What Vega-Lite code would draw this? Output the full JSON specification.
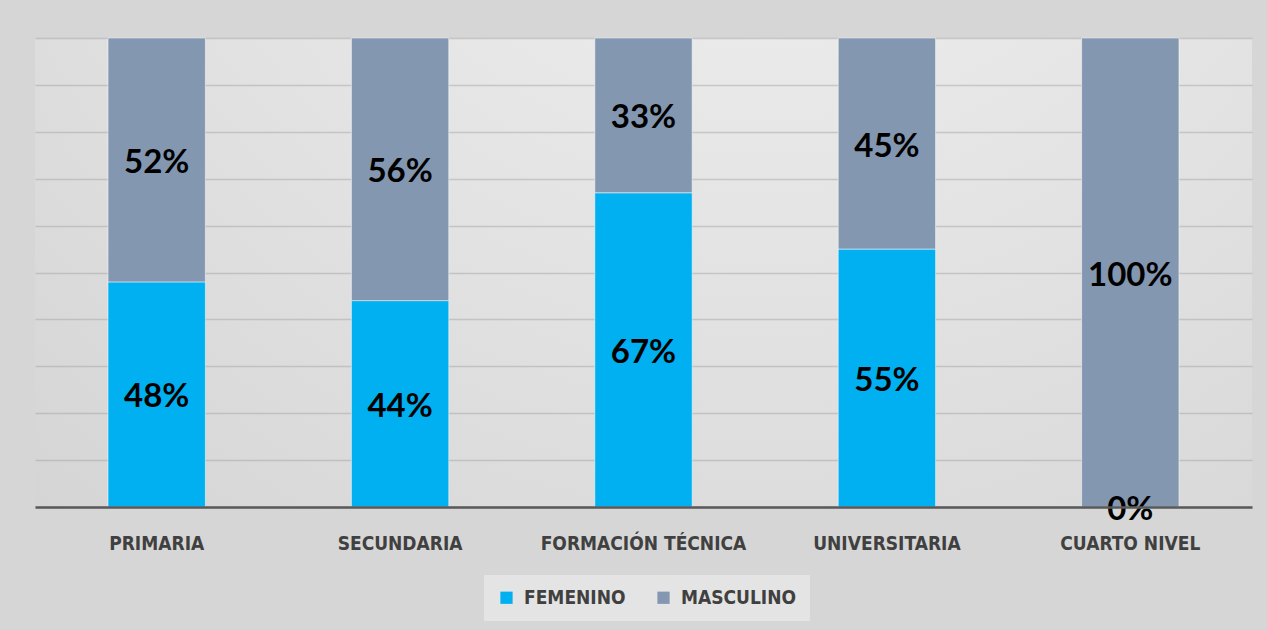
{
  "$schema": "https://vega.github.io/schema/vega-lite/v6.json",
  "width": 1217,
  "height": 469,
  "autosize": {"type": "none"},
  "padding": {"left": 35, "top": 38, "right": 15, "bottom": 123},
  "background": "#d6d6d6",
  "data": {
    "values": [
      {"nivel": "PRIMARIA", "sexo": "FEMENINO", "valor": 0.48},
      {"nivel": "PRIMARIA", "sexo": "MASCULINO", "valor": 0.52},
      {"nivel": "SECUNDARIA", "sexo": "FEMENINO", "valor": 0.44},
      {"nivel": "SECUNDARIA", "sexo": "MASCULINO", "valor": 0.56},
      {"nivel": "FORMACIÓN  TÉCNICA", "sexo": "FEMENINO", "valor": 0.67},
      {"nivel": "FORMACIÓN  TÉCNICA", "sexo": "MASCULINO", "valor": 0.33},
      {"nivel": "UNIVERSITARIA", "sexo": "FEMENINO", "valor": 0.55},
      {"nivel": "UNIVERSITARIA", "sexo": "MASCULINO", "valor": 0.45},
      {"nivel": "CUARTO  NIVEL", "sexo": "FEMENINO", "valor": 0.0},
      {"nivel": "CUARTO  NIVEL", "sexo": "MASCULINO", "valor": 1.0}
    ]
  },
  "encoding": {
    "x": {
      "field": "nivel",
      "type": "nominal",
      "sort": null,
      "scale": {"paddingInner": 0.6, "paddingOuter": 0.3},
      "axis": {
        "title": null,
        "labelAngle": 0,
        "ticks": false,
        "domainColor": "#595959",
        "domainWidth": 2.5,
        "labelFont": "DejaVu Sans Condensed",
        "labelFontWeight": "bold",
        "labelFontSize": 19,
        "labelColor": "#404040",
        "labelPadding": 27,
        "labelLimit": 0,
        "grid": false,
        "zindex": 1
      }
    },
    "y": {
      "field": "valor",
      "type": "quantitative",
      "stack": "normalize",
      "scale": {"domain": [0, 1]},
      "axis": {
        "title": null,
        "labels": false,
        "ticks": false,
        "domain": false,
        "grid": true,
        "values": [0, 0.1, 0.2, 0.3, 0.4, 0.5, 0.6, 0.7, 0.8, 0.9, 1],
        "gridColor": "#a0a0a0",
        "gridOpacity": 0.45,
        "gridWidth": 1.5
      }
    }
  },
  "layer": [
    {
      "mark": {"type": "bar", "stroke": "#ffffff", "strokeWidth": 1, "strokeOpacity": 0.5},
      "encoding": {
        "color": {
          "field": "sexo",
          "type": "nominal",
          "scale": {"domain": ["FEMENINO", "MASCULINO"], "range": ["#00b0f0", "#8497b0"]},
          "legend": {
            "title": null,
            "orient": "none",
            "legendX": 449,
            "legendY": 537,
            "direction": "horizontal",
            "symbolType": "square",
            "symbolSize": 150,
            "symbolStrokeWidth": 0,
            "labelFont": "DejaVu Sans Condensed",
            "labelFontWeight": "bold",
            "labelFontSize": 19,
            "labelColor": "#404040",
            "labelLimit": 0,
            "labelOffset": 8,
            "fillColor": "#e4e4e4",
            "padding": 13,
            "offset": 0,
            "columnPadding": 28
          }
        },
        "order": {"field": "sexo", "sort": "ascending"}
      }
    },
    {
      "mark": {"type": "text", "font": "Lato", "fontWeight": "bold", "fontSize": 33, "color": "#000000", "baseline": "middle", "dy": 3},
      "encoding": {
        "y": {"field": "valor", "type": "quantitative", "stack": "normalize", "bandPosition": 0.5},
        "detail": {"field": "sexo"},
        "order": {"field": "sexo", "sort": "ascending"},
        "text": {"field": "valor", "type": "quantitative", "format": ".0%"}
      }
    }
  ],
  "config": {
    "view": {
      "stroke": null,
      "fill": {
        "gradient": "radial",
        "x1": 0.6, "y1": 0, "r1": 0,
        "x2": 0.6, "y2": 0, "r2": 1,
        "stops": [
          {"offset": 0, "color": "#f4f4f4"},
          {"offset": 1, "color": "#d2d2d2"}
        ]
      }
    }
  }
}
